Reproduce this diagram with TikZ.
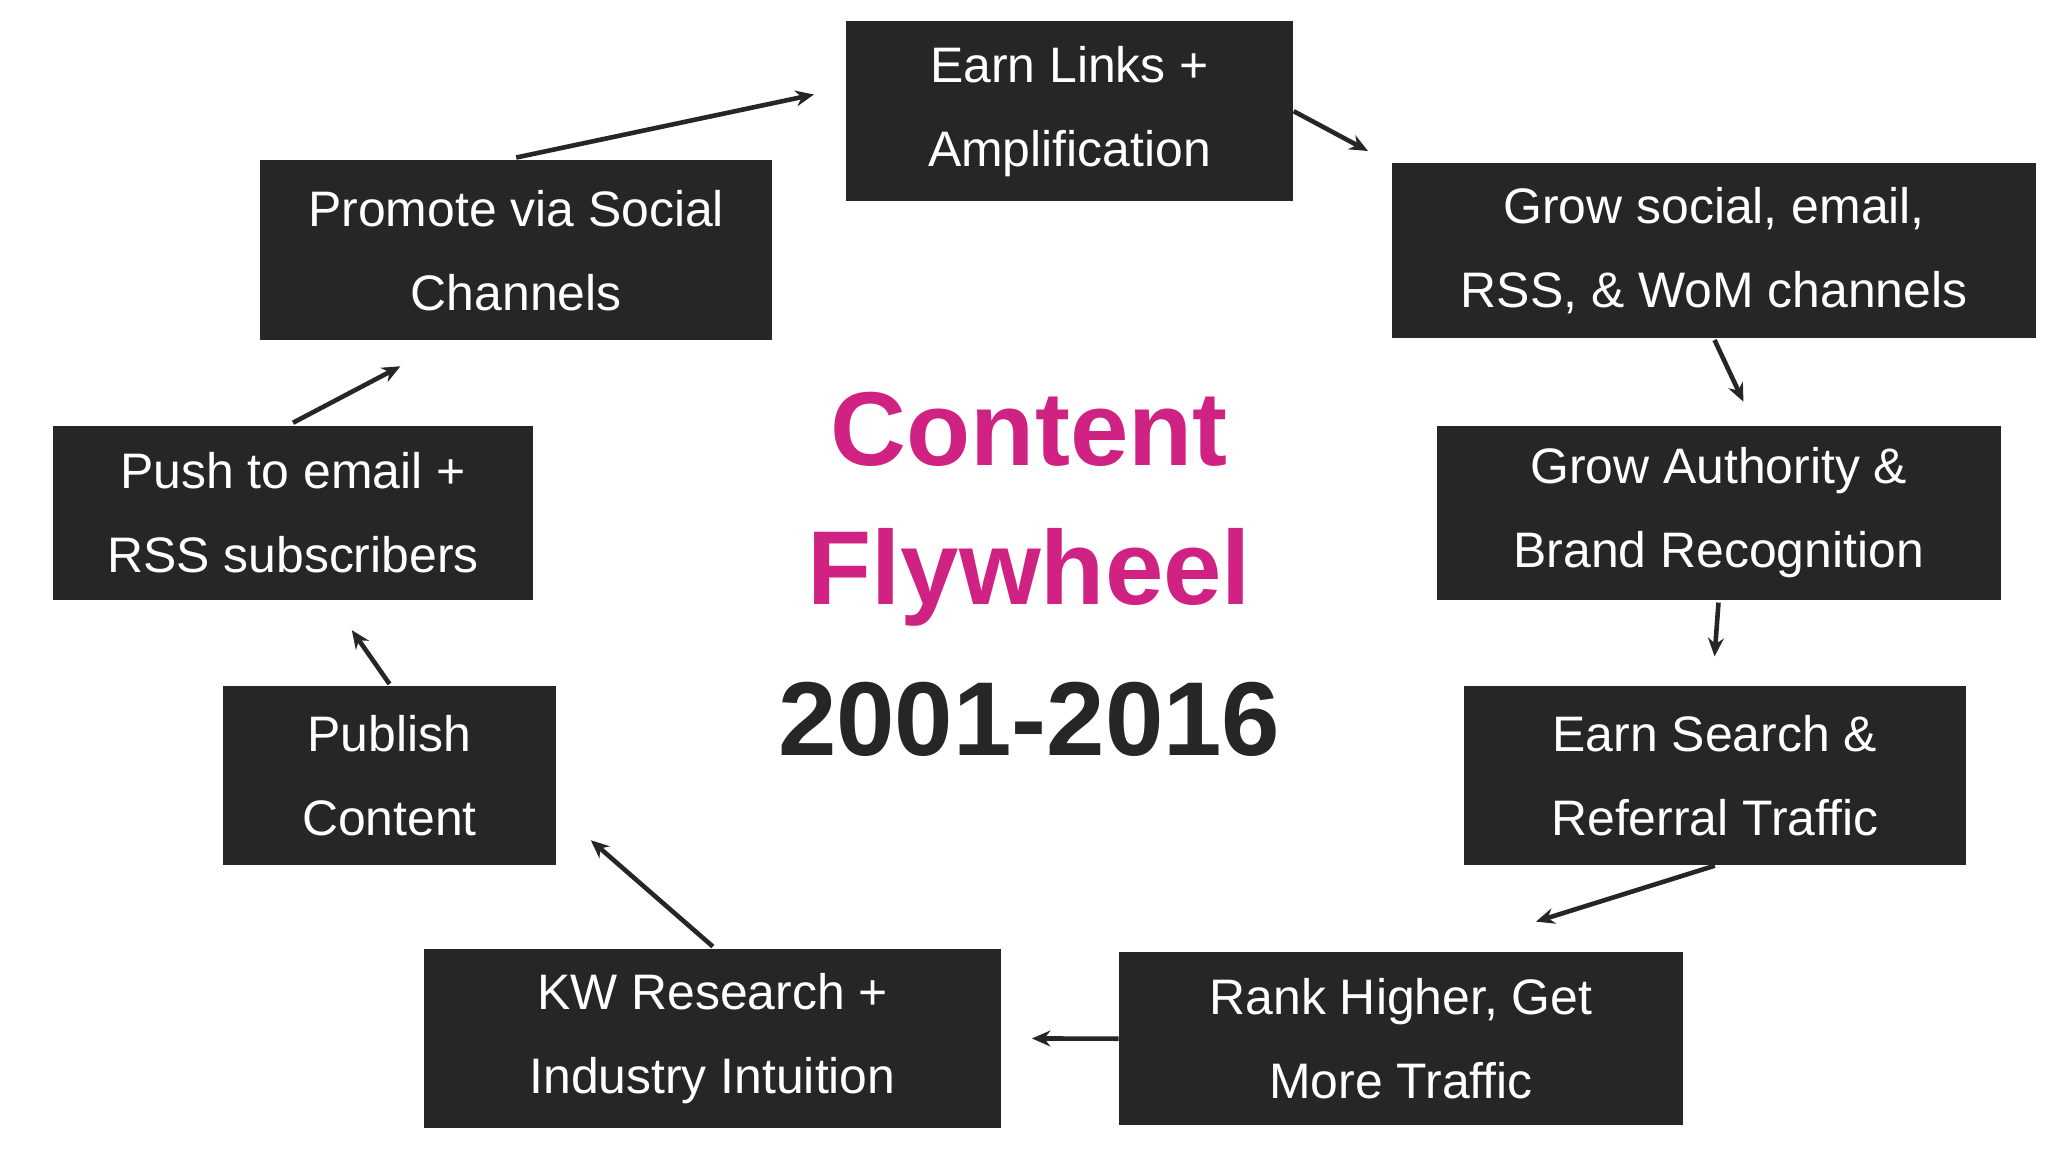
\documentclass[tikz,border=0pt]{standalone}
\usepackage{fontspec}
\setmainfont{Liberation Sans}
\usetikzlibrary{arrows.meta}
\definecolor{boxc}{HTML}{262626}
\definecolor{mag}{HTML}{D02283}
\begin{document}
\begin{tikzpicture}[x=1pt,y=-1pt,
  box/.style={fill=boxc,text=white,inner sep=0pt,font=\fontsize{38}{64}\selectfont,align=center,anchor=north west},
  arr/.style={draw=boxc,line width=3.5pt,-{Stealth[length=14pt,width=12pt]}}]
\useasboundingbox (0,0) rectangle (1560,877.5);
\fill[white] (0,0) rectangle (1560,877.5);
\newcommand{\bx}[6]{\node[box,minimum width=#4-#2,minimum height=#5-#3] (#1) at (#2,#3) {#6};}
\bx{earn}{644}{16}{985}{153}{Earn Links +\\Amplification}
\bx{grow}{1060}{124}{1551}{257}{Grow social, email,\\RSS, \& WoM channels}
\bx{auth}{1094}{324}{1524}{457}{Grow Authority \&\\Brand Recognition}
\bx{search}{1115}{522}{1497}{659}{Earn Search \&\\Referral Traffic}
\bx{rank}{852}{725}{1282}{857}{Rank Higher, Get\\More Traffic}
\bx{kw}{323}{723}{762}{859}{KW Research +\\Industry Intuition}
\bx{pub}{170}{522}{423}{659}{Publish\\Content}
\bx{push}{40}{324}{406}{457}{Push to email +\\RSS subscribers}
\bx{prom}{198}{122}{588}{259}{Promote via Social\\Channels}
\node[font=\bfseries\fontsize{80}{106}\selectfont,align=center,text=mag] (t1) at (784,388) {Content\\Flywheel};
\node[font=\bfseries\fontsize{80}{106}\selectfont,text=boxc] (t2) at (784,548) {2001-2016};
\coordinate (a1) at (620,72);
\coordinate (a2) at (1042,115);
\coordinate (a3) at (1328,306);
\coordinate (a4) at (1306,500);
\coordinate (a5) at (1170,702);
\coordinate (a6) at (786,791);
\coordinate (a7) at (450,640);
\coordinate (a8) at (268,480);
\coordinate (a9) at (305,279);
\draw[arr] (prom.north) ++(0,-2) -- (a1);
\draw[arr] (earn.east) -- (a2);
\draw[arr] (1306,259) -- (a3);
\draw[arr] (1309,459) -- (a4);
\draw[arr] (search.south) -- (a5);
\draw[arr] (rank.west) -- (a6);
\draw[arr] (543,721) -- (a7);
\draw[arr] (pub.north) ++(0,-1) -- (a8);
\draw[arr] (push.north) ++(0,-2) -- (a9);
\end{tikzpicture}
\end{document}
